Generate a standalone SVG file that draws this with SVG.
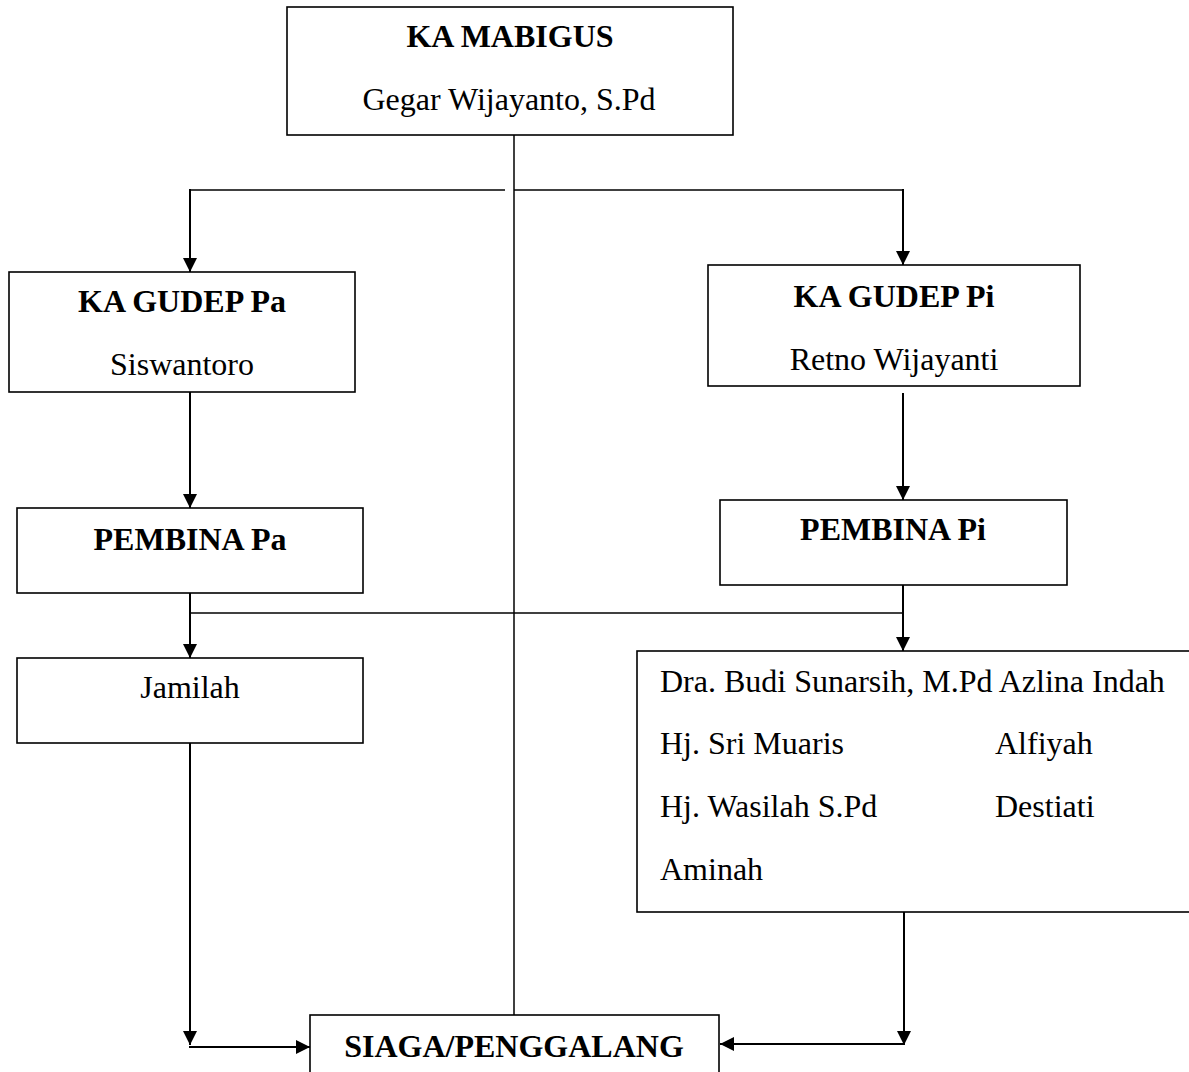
<svg xmlns="http://www.w3.org/2000/svg" width="1189" height="1072" viewBox="0 0 1189 1072">
<style>
.box{fill:#fff;stroke:#000;stroke-width:1.6}
.t{font-family:"Liberation Serif","Times New Roman",serif;font-size:32px;fill:#000}
.b{font-weight:bold}
.m{text-anchor:middle}
.c{fill:none;stroke:#000;stroke-width:2}
.thin{fill:none;stroke:#000;stroke-width:1.5}
</style>
<defs>
<marker id="ah" viewBox="0 0 14 14" refX="14" refY="7" markerWidth="14" markerHeight="14" markerUnits="userSpaceOnUse" orient="auto">
<path d="M0,0 L14,7 L0,14 z" fill="#000"/>
</marker>
</defs>
<rect width="1189" height="1072" fill="#fff"/>

<g id="connectors">
<line class="thin" x1="514" y1="135" x2="514" y2="1015"/>
<line class="thin" x1="190" y1="190" x2="505" y2="190"/>
<line class="thin" x1="514" y1="190" x2="903" y2="190"/>
<line class="c" x1="190" y1="189" x2="190" y2="272" marker-end="url(#ah)"/>
<line class="c" x1="903" y1="189" x2="903" y2="265" marker-end="url(#ah)"/>
<line class="c" x1="190" y1="392" x2="190" y2="508" marker-end="url(#ah)"/>
<line class="c" x1="903" y1="393" x2="903" y2="500" marker-end="url(#ah)"/>
<line class="thin" x1="190" y1="613" x2="903" y2="613"/>
<line class="c" x1="190" y1="593" x2="190" y2="658" marker-end="url(#ah)"/>
<line class="c" x1="903" y1="585" x2="903" y2="651" marker-end="url(#ah)"/>
<line class="c" x1="190" y1="743" x2="190" y2="1045" marker-end="url(#ah)"/>
<line class="c" x1="189" y1="1047" x2="310" y2="1047" marker-end="url(#ah)"/>
<line class="c" x1="904" y1="912" x2="904" y2="1045" marker-end="url(#ah)"/>
<line class="c" x1="904" y1="1044" x2="720" y2="1044" marker-end="url(#ah)"/>
</g>

<g id="ka-mabigus">
<rect class="box" x="287" y="7" width="446" height="128"/>
<text class="t b m" x="510" y="47">KA MABIGUS</text>
<text class="t m" x="509" y="110">Gegar Wijayanto, S.Pd</text>
</g>

<g id="ka-gudep-pa">
<rect class="box" x="9" y="272" width="346" height="120"/>
<text class="t b m" x="182" y="312">KA GUDEP Pa</text>
<text class="t m" x="182" y="375">Siswantoro</text>
</g>

<g id="ka-gudep-pi">
<rect class="box" x="708" y="265" width="372" height="121"/>
<text class="t b m" x="894" y="307">KA GUDEP Pi</text>
<text class="t m" x="894" y="370">Retno Wijayanti</text>
</g>

<g id="pembina-pa">
<rect class="box" x="17" y="508" width="346" height="85"/>
<text class="t b m" x="190" y="550">PEMBINA Pa</text>
</g>

<g id="pembina-pi">
<rect class="box" x="720" y="500" width="347" height="85"/>
<text class="t b m" x="893" y="540">PEMBINA Pi</text>
</g>

<g id="jamilah">
<rect class="box" x="17" y="658" width="346" height="85"/>
<text class="t m" x="190" y="698">Jamilah</text>
</g>

<g id="pembina-pi-members">
<rect class="box" x="637" y="651" width="560" height="261"/>
<text class="t" x="660" y="692">Dra. Budi Sunarsih, M.Pd Azlina Indah</text>
<text class="t" x="660" y="754">Hj. Sri Muaris</text>
<text class="t" x="995" y="754">Alfiyah</text>
<text class="t" x="660" y="817">Hj. Wasilah S.Pd</text>
<text class="t" x="995" y="817">Destiati</text>
<text class="t" x="660" y="880">Aminah</text>
</g>

<g id="siaga-penggalang">
<rect class="box" x="310" y="1015" width="409" height="70"/>
<text class="t b m" x="514" y="1057">SIAGA/PENGGALANG</text>
</g>
</svg>
